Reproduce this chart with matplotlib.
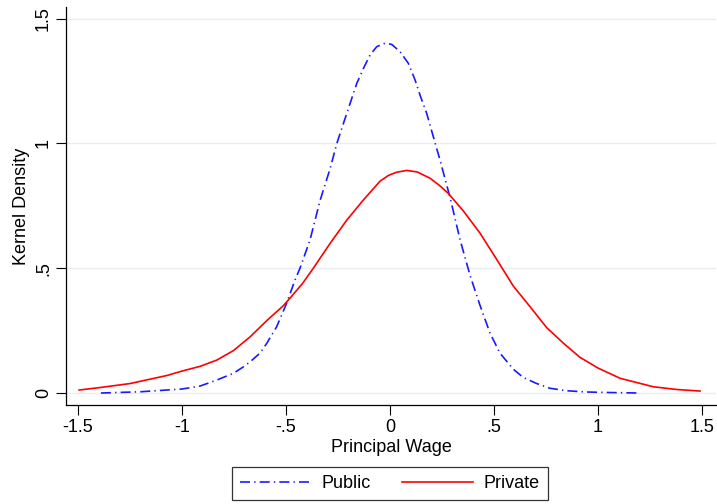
import matplotlib
matplotlib.use("Agg")
import matplotlib.pyplot as plt
from matplotlib.lines import Line2D

plt.rcParams['font.family'] = ['Liberation Sans', 'DejaVu Sans']

public_x = [-1.39, -1.2, -1.074, -1.0, -0.913, -0.833, -0.753, -0.705, -0.673, -0.625,
            -0.593, -0.545, -0.497, -0.457, -0.433, -0.385, -0.337, -0.288, -0.256, -0.224,
            -0.192, -0.16, -0.128, -0.096, -0.064, -0.024, 0.008, 0.048, 0.088, 0.12,
            0.144, 0.176, 0.208, 0.24, 0.288, 0.337, 0.385, 0.433, 0.481, 0.529,
            0.593, 0.641, 0.705, 0.769, 0.85, 0.95, 1.05, 1.2]
public_y = [0.0, 0.005, 0.012, 0.016, 0.028, 0.052, 0.079, 0.105, 0.125, 0.16,
            0.199, 0.266, 0.36, 0.453, 0.50, 0.613, 0.77, 0.90, 1.0, 1.081,
            1.161, 1.241, 1.301, 1.355, 1.388, 1.402, 1.397, 1.368, 1.321, 1.255,
            1.194, 1.121, 1.027, 0.934, 0.785, 0.613, 0.47, 0.35, 0.239, 0.159,
            0.095, 0.062, 0.038, 0.019, 0.009, 0.004, 0.002, 0.0]

private_x = [-1.495, -1.394, -1.25, -1.074, -1.0, -0.913, -0.833, -0.753, -0.673, -0.593,
             -0.513, -0.473, -0.42, -0.369, -0.288, -0.208, -0.128, -0.048, -0.008, 0.032,
             0.08, 0.13, 0.192, 0.24, 0.28, 0.352, 0.433, 0.513, 0.593, 0.673,
             0.753, 0.833, 0.913, 1.0, 1.106, 1.266, 1.38, 1.49]
private_y = [0.012, 0.022, 0.038, 0.07, 0.088, 0.107, 0.132, 0.17, 0.225, 0.29,
             0.35, 0.388, 0.44, 0.50, 0.60, 0.693, 0.774, 0.849, 0.872, 0.885,
             0.892, 0.886, 0.861, 0.83, 0.80, 0.73, 0.64, 0.535, 0.428, 0.346,
             0.262, 0.2, 0.143, 0.1, 0.059, 0.025, 0.014, 0.008]

x_ticks = [-1.5, -1, -0.5, 0, 0.5, 1, 1.5]
x_ticklabels = ['-1.5', '-1', '-.5', '0', '.5', '1', '1.5']
y_ticks = [0, 0.5, 1, 1.5]
y_ticklabels = ['0', '.5', '1', '1.5']

W, H = 717, 504
fig = plt.figure(figsize=(W / 100, H / 100), dpi=100)
ax = fig.add_axes([66 / W, 1 - 405 / H, (716 - 66) / W, (405 - 7) / H])

dash = (0, (6, 2.5, 0.8, 2.5))
ax.plot(public_x, public_y, color='#1a1aff', lw=1.2, linestyle=dash, label='Public')
ax.plot(private_x, private_y, color='#ff0000', lw=1.2, label='Private')

ax.set_xlim(-1.558, 1.567)
ax.set_ylim(-0.048, 1.547)
ax.set_xticks(x_ticks)
ax.set_xticklabels(x_ticklabels)
ax.set_yticks(y_ticks)
ax.set_yticklabels(y_ticklabels, rotation=90, va='center')
ax.tick_params(axis='both', direction='out', length=7, width=0.8, labelsize=13, pad=3)
ax.grid(axis='y', color='#e8eef1', lw=1.0)
ax.set_axisbelow(True)
for s in ['top', 'right']:
    ax.spines[s].set_visible(False)
for s in ['left', 'bottom']:
    ax.spines[s].set_linewidth(0.9)

ax.set_xlabel('Principal Wage', fontsize=13, labelpad=2)
ax.set_ylabel('Kernel Density', fontsize=13, labelpad=4)

handles = [Line2D([], [], color='#1a1aff', lw=1.2, linestyle=dash),
           Line2D([], [], color='#ff0000', lw=1.2)]
leg = fig.legend(handles, ['Public', 'Private'], ncol=2, loc='center',
                 bbox_to_anchor=(390 / W, 1 - 483.5 / H), frameon=True, fancybox=False,
                 edgecolor='black', fontsize=13, handlelength=3.9, columnspacing=1.75,
                 handletextpad=0.6, borderpad=0.45, borderaxespad=0)
leg.get_frame().set_linewidth(0.9)

fig.savefig('out.png', dpi=100)
